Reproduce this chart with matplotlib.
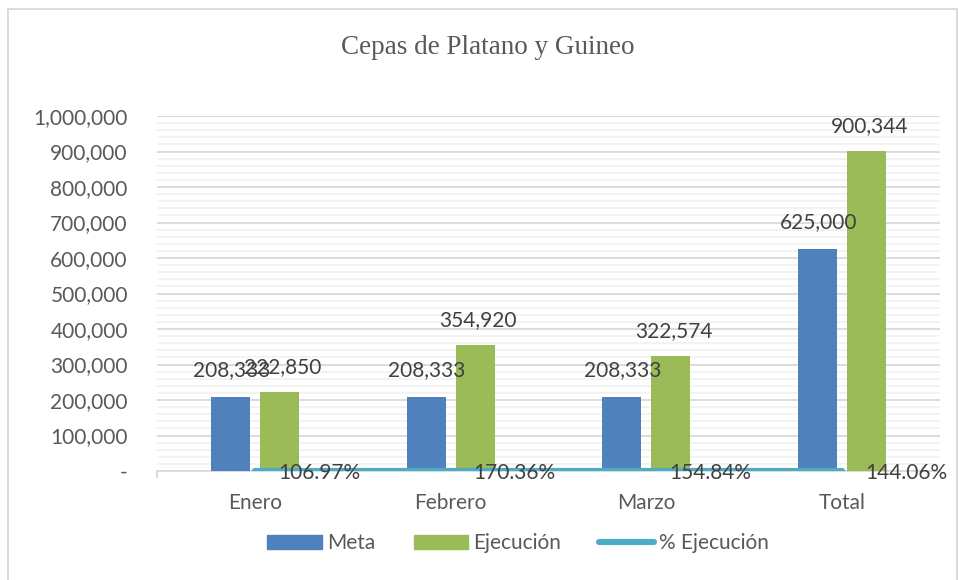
import matplotlib
matplotlib.use("Agg")
import matplotlib.pyplot as plt
import numpy as np
from matplotlib.lines import Line2D
from matplotlib.patches import Patch, Rectangle
from matplotlib.ticker import FuncFormatter, MultipleLocator

# ── Data ──────────────────────────────────────────────────────────────────────
categories = ["Enero", "Febrero", "Marzo", "Total"]
meta = [208333, 208333, 208333, 625000]
ejecucion = [222850, 354920, 322574, 900344]
pct_ejecucion = [1.0697, 1.7036, 1.5484, 1.4406]
pct_labels = ["106.97%", "170.36%", "154.84%", "144.06%"]

C_META = "#4F81BD"
C_EJEC = "#9BBB59"
C_PCT = "#4BACC6"
C_TXT = "#595959"
FS = 15

plt.rcParams["font.family"] = ["Lato", "DejaVu Sans"]

fig = plt.figure(figsize=(9.58, 5.8), dpi=100)
ax = fig.add_axes([157 / 958, 1 - 471 / 580, 783 / 958, 355 / 580])

x = np.arange(len(categories))
w = 0.2
ax.bar(x - 0.125, meta, w, color=C_META, zorder=3)
ax.bar(x + 0.125, ejecucion, w, color=C_EJEC, zorder=3)
ax.plot(x, pct_ejecucion, color=C_PCT, lw=4.4, solid_capstyle="round", zorder=4)

# data labels (overlap at Enero is as in the source chart)
for xi, v in zip(x - 0.125, meta):
    ax.annotate(f"{v:,.0f}", (xi, v), xytext=(1, 27), textcoords="offset pixels",
                ha="center", va="center", fontsize=FS, color="#404040", zorder=5)
for xi, v in zip(x + 0.125, ejecucion):
    ax.annotate(f"{v:,.0f}", (xi, v), xytext=(3, 25), textcoords="offset pixels",
                ha="center", va="center", fontsize=FS, color="#404040", zorder=5)
for xi, v, lab in zip(x, pct_ejecucion, pct_labels):
    ax.annotate(lab, (xi, v), xytext=(23, -2), textcoords="offset pixels",
                ha="left", va="center", fontsize=FS, color="#404040", zorder=5)

ax.set_xlim(-0.5, 3.5)
ax.set_ylim(0, 1_000_000)
ax.yaxis.set_major_locator(MultipleLocator(100_000))
ax.yaxis.set_minor_locator(MultipleLocator(20_000))
ax.yaxis.set_major_formatter(FuncFormatter(lambda v, p: "-" if v == 0 else f"{v:,.0f}"))
ax.grid(which="major", axis="y", color="#D9D9D9", lw=1.3, zorder=0)
ax.grid(which="minor", axis="y", color="#F2F2F2", lw=1.3, zorder=0)

ax.set_xticks(x)
ax.set_xticklabels(categories)
ax.set_xticks([-0.5], minor=True)
ax.tick_params(axis="x", which="major", length=0, pad=16, labelsize=FS, labelcolor=C_TXT)
ax.tick_params(axis="x", which="minor", length=5, color="#D9D9D9", width=1.3)
ax.tick_params(axis="y", which="both", length=0, pad=21, labelsize=FS, labelcolor=C_TXT)

for s in ["top", "right", "left"]:
    ax.spines[s].set_visible(False)
ax.spines["bottom"].set_color("#D9D9D9")
ax.spines["bottom"].set_linewidth(1.3)

fig.text(488 / 958, 1 - 47 / 580, "Cepas de Platano y Guineo", ha="center", va="center",
         fontsize=19.5, color=C_TXT, family=["Liberation Serif", "DejaVu Serif"])

handles = [Patch(color=C_META), Patch(color=C_EJEC),
           Line2D([], [], color=C_PCT, lw=4.4, solid_capstyle="round")]
fig.legend(handles, ["Meta", "Ejecución", "% Ejecución"], loc="center",
           bbox_to_anchor=(518 / 958, 1 - 543 / 580), ncol=3, frameon=False,
           fontsize=FS, labelcolor=C_TXT, handlelength=2.6, handleheight=0.65,
           handletextpad=0.25, columnspacing=1.85)

fig.patches.append(Rectangle((8 / 958, -0.05), 949 / 958, 1.05 - 9 / 580,
                             transform=fig.transFigure, fill=False,
                             edgecolor="#D9D9D9", lw=1.3))

fig.savefig("out.png", dpi=100)
